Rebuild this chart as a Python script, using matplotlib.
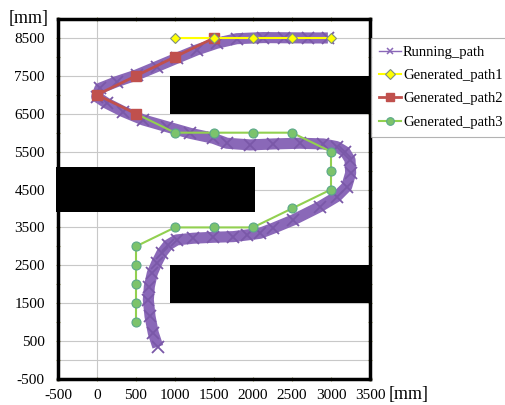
import matplotlib
matplotlib.use("Agg")
import matplotlib.pyplot as plt
from matplotlib.patches import Rectangle

# ---------------- data ----------------
running_x = [780, 722, 680, 658, 671, 709, 765, 829, 914, 1021, 1235, 1491, 1748, 1919,
             2090, 2261, 2517, 2859, 3073, 3201, 3252, 3244, 3179, 3073, 2902, 2603,
             2261, 1962, 1663, 1491, 1192, 893, 594, 337, 124, -4, 38, 252, 509, 765,
             1021, 1278, 1534, 1791, 2132, 2400, 2700, 2960]
running_y = [350, 710, 1150, 1590, 1940, 2290, 2560, 2820, 3040, 3170, 3215, 3240, 3257, 3300,
             3345, 3480, 3698, 4050, 4313, 4577, 4930, 5280, 5500, 5632, 5703, 5722,
             5703, 5677, 5722, 5853, 5985, 6160, 6336, 6556, 6777, 6951, 7173, 7347, 7524, 7743,
             7964, 8183, 8360, 8480, 8510, 8505, 8500, 8500]

gen1_x = [1000, 1500, 2000, 2500, 3000]
gen1_y = [8500, 8500, 8500, 8500, 8500]

gen2_x = [500, 0, 500, 1000, 1500]
gen2_y = [6500, 7000, 7500, 8000, 8500]

gen3_x = [500, 500, 500, 500, 500, 1000, 1500, 2000, 2500, 3000, 3000, 3000,
          2500, 2000, 1500, 1000, 500]
gen3_y = [1000, 1500, 2000, 2500, 3000, 3500, 3500, 3500, 4000, 4500, 5000, 5500,
          6000, 6000, 6000, 6000, 6500]

# obstacles: (x0, x1, y0, y1)
obstacles = [(940, 3500, 6500, 7500),
             (-530, 2030, 3920, 5100),
             (940, 3500, 1500, 2520)]

x_ticks = [-500, 0, 500, 1000, 1500, 2000, 2500, 3000, 3500]
y_ticks = [-500, 500, 1500, 2500, 3500, 4500, 5500, 6500, 7500, 8500]
y_minor = [0, 1000, 2000, 3000, 4000, 5000, 6000, 7000, 8000]

labels = ["Running_path", "Generated_path1", "Generated_path2", "Generated_path3"]

# ---------------- plot ----------------
plt.rcParams['font.family'] = ['Liberation Serif', 'DejaVu Serif']
plt.rcParams['axes.unicode_minus'] = False
W, H = 506, 405
fig = plt.figure(figsize=(W / 100, H / 100), dpi=100)
ax = fig.add_axes([58 / W, 1 - 379 / H, (370 - 58) / W, (379 - 19) / H])

ax.set_xlim(-500, 3500)
ax.set_ylim(-500, 9000)

for yt in y_ticks:
    ax.axhline(yt, color='#c8c8c8', lw=0.8, zorder=0)
ax.axhline(0, color='#c8c8c8', lw=0.8, zorder=0)
ax.axvline(0, color='#c8c8c8', lw=0.8, zorder=0)

purple = '#8a68b8'
# thick band + markers
ax.plot(running_x, running_y, color=purple, lw=8, zorder=2,
        solid_capstyle='butt', solid_joinstyle='round')
ax.plot(running_x, running_y, color='#7a58a8', lw=0, marker='x', ms=9, mew=1.3,
        zorder=2)
leg_run, = ax.plot([], [], color=purple, lw=1, marker='x', ms=5, mew=1.1)

l3, = ax.plot(gen3_x, gen3_y, color='#92D050', lw=1.5, marker='o', ms=6.5,
              mfc='#7CC36B', mec='#5BA88A', mew=0.8, zorder=3)
l2, = ax.plot(gen2_x, gen2_y, color='#C0504D', lw=2, marker='s', ms=6.5,
              mfc='#C0504D', mec='#C0504D', zorder=4)
l1, = ax.plot(gen1_x, gen1_y, color='#FFFF00', lw=1.5, marker='D', ms=5.5,
              mfc='#FFFF00', mec='#7f8f80', mew=0.8, zorder=5)

for (x0, x1, y0, y1) in obstacles:
    ax.add_patch(Rectangle((x0, y0), x1 - x0, y1 - y0, facecolor='black',
                           edgecolor='none', zorder=6, clip_on=False))

ax.set_xticks(x_ticks)
ax.set_yticks(y_ticks)
ax.set_yticks(y_minor, minor=True)
ax.tick_params(which='both', direction='inout', length=3, width=0.8, color='#a0a060',
               top=True, right=True, labelsize=11, pad=6)
ax.tick_params(axis='y', pad=8)

for s in ax.spines.values():
    s.set_linewidth(2.5)
    s.set_color('black')
    s.set_zorder(7)

fig.text(29 / W, 1 - 18 / H, "[mm]", fontsize=13, ha='center', va='center')
fig.text(409 / W, 1 - 394 / H, "[mm]", fontsize=13, ha='center', va='center')

leg = fig.legend([leg_run, l1, l2, l3], labels, loc='upper left',
                 bbox_to_anchor=(371 / W, 1 - 38 / H), bbox_transform=fig.transFigure,
                 fontsize=10.5, frameon=True, fancybox=False, edgecolor='#a0a0a0',
                 handlelength=1.5, handletextpad=0.15, labelspacing=0.68,
                 borderaxespad=0, borderpad=0.55, markerscale=0.85)
leg.get_frame().set_linewidth(0.8)

fig.savefig("out.png", dpi=100)
